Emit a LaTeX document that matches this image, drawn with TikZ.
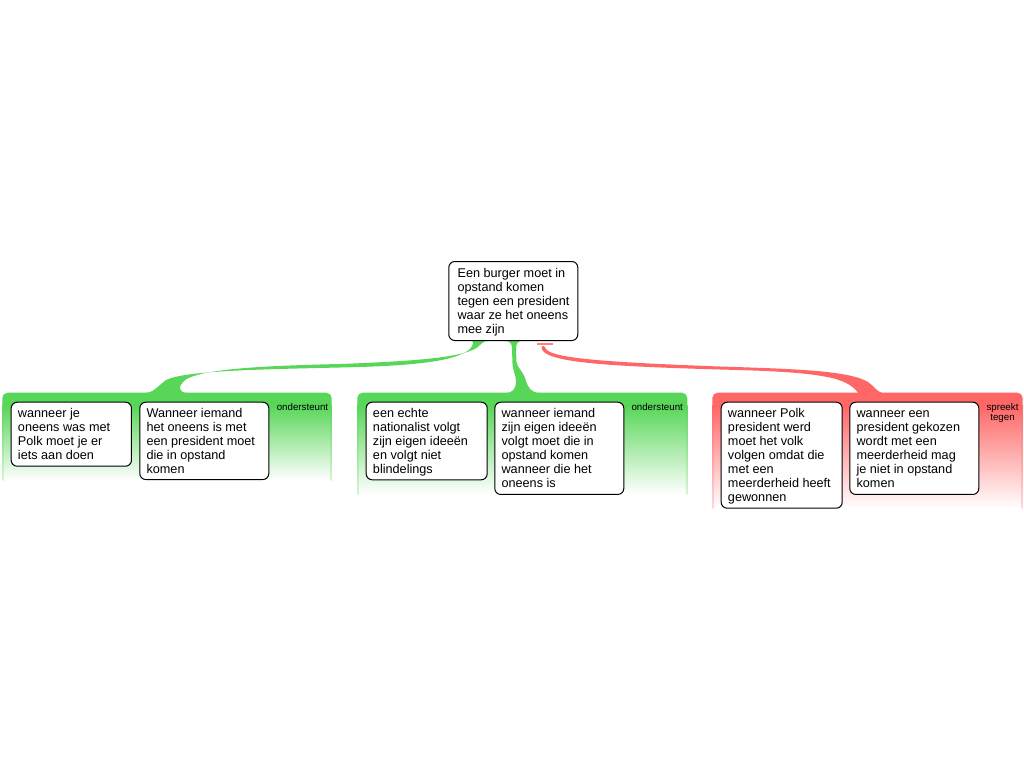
\documentclass[tikz,border=0pt]{standalone}
\usepackage{fontspec}
\setmainfont{Liberation Sans}
\usetikzlibrary{calc}
\definecolor{G}{RGB}{88,214,88}
\definecolor{R}{RGB}{255,102,102}
\newcommand\drawgroup[5]{% name, x1, x2, ybottom, colour
  \fill[#5] (#2,406) [rounded corners=4pt] -- (#2,392.7) -- (#3,392.7) [sharp corners] -- (#3,406) -- cycle;
  \shade[top color=#5, bottom color=white] (#2,405.5) rectangle (#3,#4);
  \shade[top color=#5, bottom color=#5!25] (#2,405.5) rectangle ({#2+1.4},#4);
  \shade[top color=#5, bottom color=#5!25] ({#3-1.4},405.5) rectangle (#3,#4);
  \node[inner sep=0pt, anchor=north west, minimum width={(#3-#2)*0.75pt}, minimum height={(#4-392.7)*0.75pt}] (#1) at (#2,392.7) {};
}
\tikzset{
  box/.style={draw=black, line width=0.75pt, fill=white, rounded corners=4.5pt, inner sep=0pt, anchor=north west},
  txt/.style={inner sep=0pt, align=left, anchor=north west, font=\fontsize{9.5}{10.5}\selectfont},
  lbl/.style={inner sep=0pt, align=center, anchor=base, font=\fontsize{7.3}{7.5}\selectfont},
}
\begin{document}
\begin{tikzpicture}[x=0.75pt,y=-0.75pt]
\useasboundingbox (0,0) rectangle (1024,768);
\fill[white] (0,0) rectangle (1024,768);

% connectors
\fill[G] (145,393) .. controls (153,393) and (158,386) .. (166,380)
  .. controls (185,371) and (250,369.5) .. (340,367.5)
  .. controls (410,366) and (455,362) .. (470,349)
  .. controls (474,344) and (474,341) .. (471,340.5)
  -- (490,340.5) .. controls (485,341) and (482,342) .. (480,345)
  .. controls (470,357) and (420,361) .. (340,364)
  .. controls (250,366) and (200,370) .. (185,380)
  .. controls (178,386) and (178,393) .. (188,393) -- cycle;
\fill[G] (503,340.5) .. controls (510,341) and (512,343) .. (512,349)
  -- (512.5,364) .. controls (513,371) and (516,375) .. (516,382)
  .. controls (516,389) and (512,393) .. (506,393)
  -- (540,393) .. controls (532,393) and (528,388) .. (526,381)
  .. controls (524,372) and (517,368) .. (516.5,362)
  -- (516,349) .. controls (516,343) and (518,341) .. (523,340.5) -- cycle;
\fill[R] (541.5,347) .. controls (541.5,345.5) and (545,345.5) .. (545,347)
  .. controls (546,358) and (600,362) .. (720,366.5)
  .. controls (800,369) and (850,371) .. (868,382)
  .. controls (874,386) and (876,391) .. (882,393)
  -- (858,393) .. controls (855,388) and (848,382) .. (832,378)
  .. controls (810,373) and (780,371) .. (720,369.5)
  .. controls (600,366) and (541,362) .. (541.5,347) -- cycle;
\draw[R!80, line width=1.1pt] (537,344) -- (553,344);

% groups
\drawgroup{g1}{2.3}{331.7}{480}{G}
\drawgroup{g2}{357.3}{687.3}{494}{G}
\drawgroup{g3}{712.3}{1022.7}{508}{R}

% root
\node[box, minimum width=96.75pt, minimum height=59.25pt] (root) at (448.3,261) {};
\node[txt] at ($(root.north west)+(9,6.5)$) {\strut Een burger moet in\\opstand komen\\tegen een president\\waar ze het oneens\\mee zijn};

% group 1
\node[box, minimum width=90.2pt, minimum height=48pt] (a) at (10.7,401.7) {};
\node[txt] at ($(a.north west)+(7,6)$) {\strut wanneer je\\oneens was met\\Polk moet je er\\iets aan doen};
\node[box, minimum width=96.75pt, minimum height=58pt] (b) at (139.3,401.7) {};
\node[txt] at ($(b.north west)+(7,6)$) {\strut Wanneer iemand\\het oneens is met\\een president moet\\die in opstand\\komen};
\node[lbl] (l1) at (302.5,410) {ondersteunt};

% group 2
\node[box, minimum width=90.75pt, minimum height=58.2pt] (c) at (365.7,401.7) {};
\node[txt] at ($(c.north west)+(7,6)$) {\strut een echte\\nationalist volgt\\zijn eigen ideeën\\en volgt niet\\blindelings};
\node[box, minimum width=96.75pt, minimum height=69.2pt] (d) at (494.3,401.7) {};
\node[txt] at ($(d.north west)+(7,6)$) {\strut wanneer iemand\\zijn eigen ideeën\\volgt moet die in\\opstand komen\\wanneer die het\\oneens is};
\node[lbl] (l2) at (657.2,410) {ondersteunt};

% group 3
\node[box, minimum width=90.75pt, minimum height=79.5pt] (e) at (720.7,401.7) {};
\node[txt] at ($(e.north west)+(7,6)$) {\strut wanneer Polk\\president werd\\moet het volk\\volgen omdat die\\met een\\meerderheid heeft\\gewonnen};
\node[box, minimum width=96.75pt, minimum height=69.2pt] (f) at (849.3,401.7) {};
\node[txt] at ($(f.north west)+(7,6)$) {\strut wanneer een\\president gekozen\\wordt met een\\meerderheid mag\\je niet in opstand\\komen};
\node[lbl] (l3) at (1002.5,420) {spreekt\\tegen};
\end{tikzpicture}
\end{document}
